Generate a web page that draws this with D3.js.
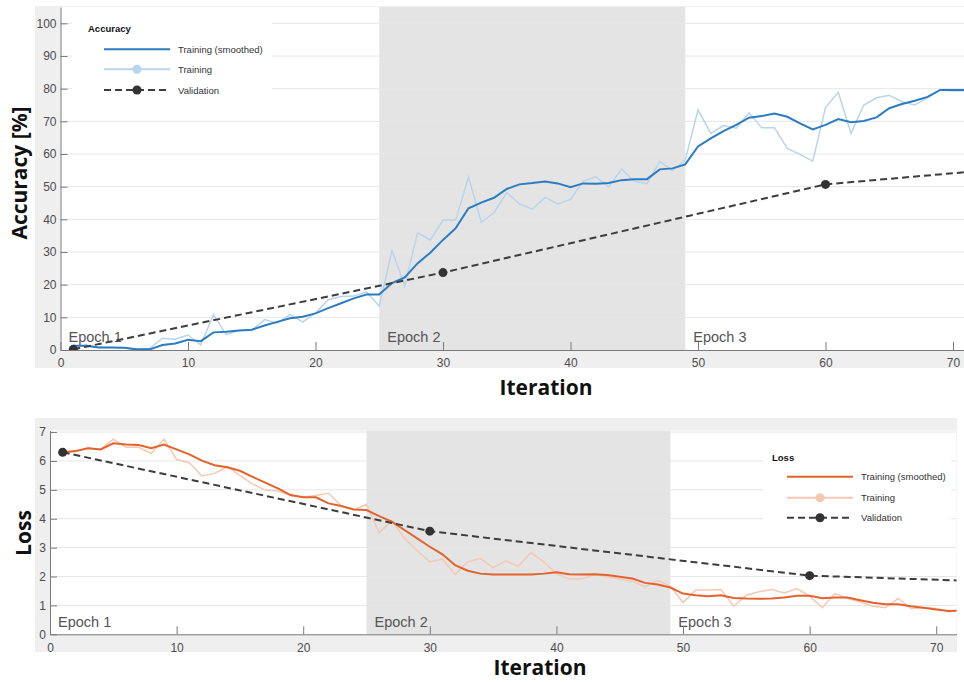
<!DOCTYPE html>
<html>
<head>
<meta charset="utf-8">
<script src="https://cdn.jsdelivr.net/npm/d3@7/dist/d3.min.js"></script>
<style>
body { margin: 0; background: #fff; }
text { font-family: "Liberation Sans", Arial, sans-serif; }
.axis path, .axis line { stroke: #7a7a7a; }
.axis text { fill: #4d4d4d; font-size: 12px; font-family: "Liberation Sans", Arial, sans-serif; }
.ytitle { font-family: "Open Sans", sans-serif; font-weight: 700; font-size: 21px; fill: #111; }
.epoch { fill: #555; font-size: 14.5px; }
.leg { font-size: 9.5px; fill: #333; }
.legtitle { font-size: 9.5px; font-weight: bold; fill: #111; }
</style>
</head>
<body>
<script>

// iterations 1..72 (index + 1)
var accSmoothed = [1.3, 1.3, 0.8, 0.8, 0.7, 0.2, 0.2, 1.5, 2.0, 3.1, 2.7, 5.4, 5.6, 6.0, 6.2, 7.5, 8.6, 9.7, 10.2, 11.2,
  12.8, 14.3, 15.8, 17.0, 17.0, 20.5, 22.2, 26.5, 29.8, 33.7, 37.3, 43.4, 45.1, 46.6, 49.3, 50.7, 51.1, 51.6, 51.0, 49.8,
  51.0, 50.9, 51.1, 52.0, 52.3, 52.3, 55.3, 55.6, 56.8, 62.3, 64.8, 67.0, 68.9, 71.1, 71.6, 72.4, 71.4, 69.4, 67.5, 68.9,
  70.7, 69.7, 70.1, 71.2, 74.0, 75.3, 76.3, 77.5, 79.6, 79.6, 79.6, 79.6];
var accTraining = [0.5, 1.5, 0.8, 0.8, 0.6, 0.0, 0.5, 3.6, 3.3, 4.6, 1.5, 10.8, 4.7, 6.0, 6.0, 9.3, 8.2, 10.8, 8.6, 11.3,
  15.4, 16.4, 16.5, 17.8, 13.4, 30.4, 19.6, 35.9, 33.7, 39.8, 39.8, 53.0, 39.1, 42.1, 48.2, 44.7, 43.1, 46.7, 44.7, 46.1,
  51.7, 53.0, 49.9, 55.4, 51.7, 50.9, 57.7, 54.9, 58.2, 73.5, 66.3, 68.7, 67.9, 72.6, 68.0, 68.0, 61.7, 59.9, 57.8, 74.2,
  78.9, 66.3, 75.0, 77.2, 78.0, 76.0, 75.0, 77.2, 79.6, 79.3, 79.4, 79.5];
var accValIter = [1, 30, 60, 72];
var accValidation = [0.2, 23.7, 50.7, 54.8];

var lossSmoothed = [6.30, 6.34, 6.44, 6.40, 6.61, 6.57, 6.55, 6.44, 6.57, 6.40, 6.23, 6.01, 5.85, 5.78, 5.66, 5.45, 5.25, 5.05, 4.82, 4.74,
  4.74, 4.53, 4.44, 4.32, 4.30, 4.09, 3.90, 3.61, 3.32, 3.03, 2.77, 2.39, 2.20, 2.10, 2.07, 2.07, 2.07, 2.07, 2.10, 2.15,
  2.08, 2.07, 2.08, 2.05, 1.99, 1.93, 1.78, 1.72, 1.62, 1.41, 1.35, 1.32, 1.35, 1.26, 1.24, 1.23, 1.24, 1.27, 1.33, 1.33,
  1.25, 1.27, 1.27, 1.18, 1.09, 1.04, 1.04, 0.97, 0.92, 0.86, 0.81, 0.82];
var lossTraining = [6.30, 6.32, 6.45, 6.40, 6.75, 6.47, 6.47, 6.26, 6.75, 6.05, 5.94, 5.48, 5.57, 5.80, 5.50, 5.20, 4.99, 4.96, 4.80, 4.75,
  4.80, 4.88, 4.45, 4.30, 4.50, 3.51, 3.93, 3.32, 2.89, 2.51, 2.60, 2.07, 2.51, 2.62, 2.31, 2.54, 2.36, 2.83, 2.51, 2.10,
  1.91, 1.91, 2.07, 1.99, 1.91, 1.84, 1.64, 1.87, 1.66, 1.10, 1.53, 1.53, 1.55, 0.97, 1.35, 1.47, 1.55, 1.43, 1.58, 1.32,
  0.92, 1.41, 1.24, 1.12, 0.97, 0.92, 1.24, 0.89, 0.92, 0.89, 0.77, 0.85];
var lossValIter = [1, 30, 60, 72];
var lossValidation = [6.30, 3.57, 2.03, 1.86];

var epochStarts = [0, 25, 49];
var epochNames = ["Epoch 1", "Epoch 2", "Epoch 3"];
var xTicks = [0, 10, 20, 30, 40, 50, 60, 70];
var accTicks = [0, 10, 20, 30, 40, 50, 60, 70, 80, 90, 100];
var lossTicks = [0, 1, 2, 3, 4, 5, 6, 7];
var legendNames = ["Training (smoothed)", "Training", "Validation"];

var svg = d3.select("body").append("svg")
    .attr("width", 964)
    .attr("height", 682);

function drawPanel(o) {
  var g = svg.append("g");

  // light grey frame behind the axes
  g.append("rect")
    .attr("x", o.frame[0]).attr("y", o.frame[1])
    .attr("width", o.frame[2]).attr("height", o.frame[3])
    .style("fill", "#efefef");

  var x = d3.scaleLinear().domain([0, 71.6]).range([o.left, o.right]);
  var y = d3.scaleLinear().domain([0, o.ymax]).range([o.bottom, o.top]);
  var clipRight = Math.min(o.right, 964);

  g.append("rect")
    .attr("x", o.left).attr("y", o.top)
    .attr("width", clipRight - o.left).attr("height", o.bottom - o.top)
    .style("fill", "#fff");

  g.append("clipPath").attr("id", o.id + "clip")
    .append("rect")
    .attr("x", o.left).attr("y", o.top - 6)
    .attr("width", clipRight - o.left).attr("height", o.bottom - o.top + 6);

  // epoch 2 shading
  g.append("rect")
    .attr("x", x(epochStarts[1])).attr("y", o.top)
    .attr("width", x(epochStarts[2]) - x(epochStarts[1]))
    .attr("height", o.bottom - o.top)
    .style("fill", "#e4e4e4");

  g.selectAll(".grid")
      .data(o.yticks.slice(1))
    .enter().append("line")
      .attr("x1", o.left).attr("x2", clipRight)
      .attr("y1", function(d) { return y(d); })
      .attr("y2", function(d) { return y(d); })
      .style("stroke", "#e6e6e6")
      .style("stroke-width", 1);

  g.selectAll(".epoch")
      .data(epochNames)
    .enter().append("text")
      .attr("class", "epoch")
      .attr("x", function(d, i) { return x(epochStarts[i]) + o.epochDx; })
      .attr("y", o.bottom - o.epochDy)
      .text(function(d) { return d; });

  g.append("g")
    .attr("class", "axis")
    .attr("transform", "translate(0," + o.bottom + ")")
    .call(d3.axisBottom(x).tickValues(xTicks).tickSizeInner(-8).tickSizeOuter(0).tickPadding(o.xpad));

  g.append("g")
    .attr("class", "axis")
    .attr("transform", "translate(" + o.left + ",0)")
    .call(d3.axisLeft(y).tickValues(o.yticks).tickFormat(d3.format("d"))
      .tickSizeInner(-7).tickSizeOuter(0).tickPadding(4));

  var plot = g.append("g").attr("clip-path", "url(#" + o.id + "clip)");

  var line = d3.line()
    .x(function(d, i) { return x(i + 1); })
    .y(function(d) { return y(d); });

  plot.append("path")
    .datum(o.train)
    .attr("d", line)
    .style("fill", "none")
    .style("stroke", o.light)
    .style("stroke-width", 1.5);

  plot.append("path")
    .datum(o.smooth)
    .attr("d", line)
    .style("fill", "none")
    .style("stroke", o.dark)
    .style("stroke-width", 2);

  var valLine = d3.line()
    .x(function(d, i) { return x(o.valIter[i]); })
    .y(function(d) { return y(d); });

  plot.append("path")
    .datum(o.val)
    .attr("d", valLine)
    .style("fill", "none")
    .style("stroke", "#3d3d3d")
    .style("stroke-width", 2)
    .style("stroke-dasharray", "7,4");

  plot.selectAll(".vdot")
      .data(o.val)
    .enter().append("circle")
      .attr("cx", function(d, i) { return x(o.valIter[i]); })
      .attr("cy", function(d) { return y(d); })
      .attr("r", 4.5)
      .style("fill", "#333");

  // legend
  var L = o.legend;
  var lg = g.append("g");
  lg.append("rect")
    .attr("x", L.box[0]).attr("y", L.box[1])
    .attr("width", L.box[2]).attr("height", L.box[3])
    .style("fill", "#fff");
  lg.append("text").attr("class", "legtitle")
    .attr("x", L.tx).attr("y", L.ty).text(o.name);

  legendNames.forEach(function(name, i) {
    var yy = L.rows[i];
    var ln = lg.append("line")
      .attr("x1", L.x1).attr("x2", L.x2)
      .attr("y1", yy).attr("y2", yy)
      .style("stroke-width", 2);
    if (i == 0) ln.style("stroke", o.dark);
    if (i == 1) {
      ln.style("stroke", o.light);
      lg.append("circle").attr("cx", (L.x1 + L.x2) / 2).attr("cy", yy).attr("r", 4.5).style("fill", o.light);
    }
    if (i == 2) {
      ln.style("stroke", "#3d3d3d").style("stroke-dasharray", "7,4");
      lg.append("circle").attr("cx", (L.x1 + L.x2) / 2).attr("cy", yy).attr("r", 4.5).style("fill", "#333");
    }
    lg.append("text").attr("class", "leg")
      .attr("x", L.x2 + 8).attr("y", yy + 3.5)
      .text(name);
  });

  svg.append("text")
    .attr("class", "ytitle")
    .attr("transform", "translate(" + o.ytitle[0] + "," + o.ytitle[1] + ") rotate(-90)")
    .style("text-anchor", "middle")
    .text(o.ylabel);

  svg.append("text")
    .attr("class", "ytitle")
    .attr("x", o.xtitle[0]).attr("y", o.xtitle[1])
    .style("text-anchor", "middle")
    .text("Iteration");
}

drawPanel({
  id: "acc", name: "Accuracy", ylabel: "Accuracy [%]",
  frame: [35, 6, 930, 362],
  left: 60.5, right: 973.4, top: 7, bottom: 350, ymax: 105,
  yticks: accTicks, xpad: 8, epochDx: 8, epochDy: 8.5,
  smooth: accSmoothed, train: accTraining, val: accValidation, valIter: accValIter,
  dark: "#2b7cc2", light: "#b8d5eb",
  legend: { box: [72, 12, 200, 88], tx: 88, ty: 32, rows: [49.3, 69.3, 90], x1: 104, x2: 170 },
  ytitle: [27, 173], xtitle: [546, 395]
});

drawPanel({
  id: "loss", name: "Loss", ylabel: "Loss",
  frame: [35, 418, 922, 234],
  left: 50, right: 956.5, top: 430.6, bottom: 634.3, ymax: 7.05,
  yticks: lossTicks, xpad: 9, epochDx: 8, epochDy: 7,
  smooth: lossSmoothed, train: lossTraining, val: lossValidation, valIter: lossValIter,
  dark: "#e4622b", light: "#f5c8b3",
  legend: { box: [763, 440, 188, 100], tx: 772, ty: 461, rows: [476.7, 497.7, 517.7], x1: 787, x2: 853 },
  ytitle: [31, 533], xtitle: [540, 675]
});

</script>
</body>
</html>
